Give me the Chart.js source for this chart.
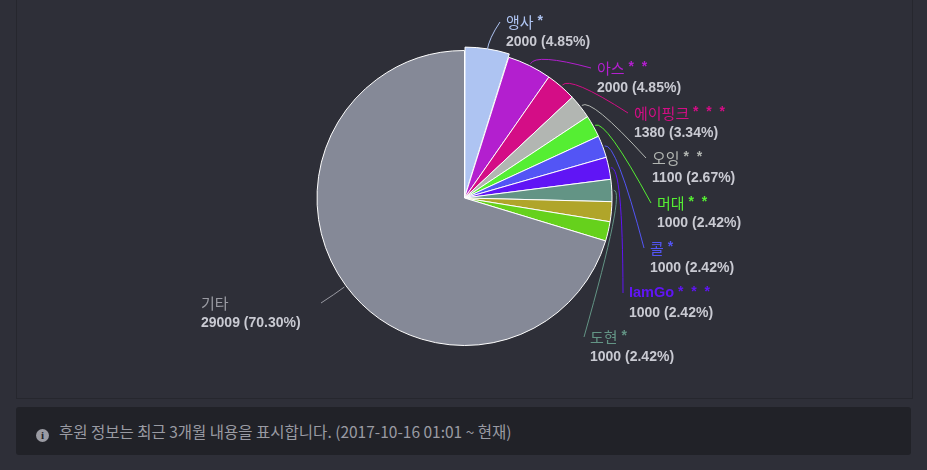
<!DOCTYPE html>
<html>
<head>
<meta charset="utf-8">
<script src="https://cdn.jsdelivr.net/npm/chart.js@4"></script>
<style>
  body { margin: 0; background: #2e2f38; width: 927px; height: 470px; overflow: hidden; font-family: "Noto Sans CJK KR", "Liberation Sans", sans-serif; }
  #panel { position: absolute; left: 16px; top: 0; width: 895px; height: 398px; background: #2e2f38; border-left: 1px solid #26272e; border-right: 1px solid #26272e; border-bottom: 1px solid #26272e; }
  #info { position: absolute; left: 16px; top: 407px; width: 895px; height: 48px; background: #212228; border-radius: 3px; color: #9a9ba3; font-size: 15.5px; line-height: 48px; }
  #info .i { display: inline-block; width: 13px; height: 13px; border-radius: 7px; background: #9a9ba3; color: #212228; font: bold 11px "Liberation Serif"; text-align: center; line-height: 13px; margin: 0 10px 0 20px; vertical-align: -1px; }
</style>
</head>
<body>
<div id="panel"><canvas id="pie" width="895" height="398"></canvas></div>
<div id="info"><span class="i">i</span>후원 정보는 최근 3개월 내용을 표시합니다. (2017-10-16 01:01 ~ 현재)</div>
<script>
const names = ['앵사', '아스', '에이핑크', '오잉', '머대', '콜', 'IamGo', '도현', '', '', '기타'];
const stars = ['*', '* *', '* * *', '* *', '* *', '*', '* * *', '*', '', '', ''];
const amounts = [2000, 2000, 1380, 1100, 1000, 1000, 1000, 1000, 900, 876, 29009];
const colors = ['#aec4f2', '#b31fcf', '#d40d86', '#b2b6b2', '#55ee33', '#5355f5', '#6015f5', '#639485', '#b0a52a', '#66d11c', '#858997'];
const textColors = ['#aec4f2', '#b31fcf', '#d40d86', '#b2b6b2', '#55ee33', '#5355f5', '#6015f5', '#639485', '', '', '#9a9ba3'];
// label anchor (left x, name line y) on the panel canvas
const labelPos = [[489, 22], [580, 68], [617, 113], [635, 158], [640, 203], [633, 248], [612, 293], [573, 337], null, null, [184, 303]];

const total = amounts.reduce((a, b) => a + b, 0);

const calloutPlugin = {
  id: 'callouts',
  afterDatasetsDraw(chart) {
    const ctx = chart.ctx;
    const arcs = chart.getDatasetMeta(0).data;
    arcs.forEach((arc, i) => {
      const pos = labelPos[i];
      if (!pos) return;
      const p = arc.getProps(['x', 'y', 'startAngle', 'endAngle', 'outerRadius'], true);
      const mid = (p.startAngle + p.endAngle) / 2;
      const ex = p.x + Math.cos(mid) * (p.outerRadius + 2);
      const ey = p.y + Math.sin(mid) * (p.outerRadius + 2);
      const left = i === 10;
      const tx = left ? pos[0] + 120 : pos[0] - 6;
      const ty = pos[1];
      ctx.save();
      ctx.strokeStyle = textColors[i];
      ctx.lineWidth = 1;
      ctx.beginPath();
      ctx.moveTo(ex, ey);
      const cx = ex + Math.cos(mid) * 12;
      const cy = ey + Math.sin(mid) * 12;
      ctx.quadraticCurveTo(cx, cy, tx, ty);
      ctx.stroke();
      ctx.textBaseline = 'middle';
      ctx.font = i === 6 ? 'bold 14.5px "Liberation Sans", sans-serif' : '15px "Noto Sans CJK KR", sans-serif';
      ctx.fillStyle = textColors[i];
      ctx.fillText(names[i], pos[0], pos[1]);
      let w = ctx.measureText(names[i]).width;
      if (stars[i]) {
        ctx.font = 'bold 14px "Liberation Sans", sans-serif';
        ctx.fillText(' ' + stars[i].split(' ').join('  '), pos[0] + w, pos[1] - 1);
      }
      ctx.font = 'bold 14px "Liberation Sans", sans-serif';
      ctx.fillStyle = '#c9cad2';
      ctx.fillText(amounts[i] + ' (' + (amounts[i] / total * 100).toFixed(2) + '%)', pos[0], pos[1] + 20);
      ctx.restore();
    });
  }
};

new Chart(document.getElementById('pie'), {
  type: 'pie',
  data: {
    labels: names,
    datasets: [{
      data: amounts,
      backgroundColor: colors,
      borderColor: '#ffffff',
      borderWidth: 1,
      offset: amounts.map((v, i) => i === 0 ? 8 : 0)
    }]
  },
  options: {
    responsive: false,
    animation: false,
    layout: { padding: { top: 46, bottom: 48, left: 0, right: 0 } },
    plugins: { legend: { display: false }, tooltip: { enabled: false } }
  },
  plugins: [calloutPlugin]
});
</script>
</body>
</html>
